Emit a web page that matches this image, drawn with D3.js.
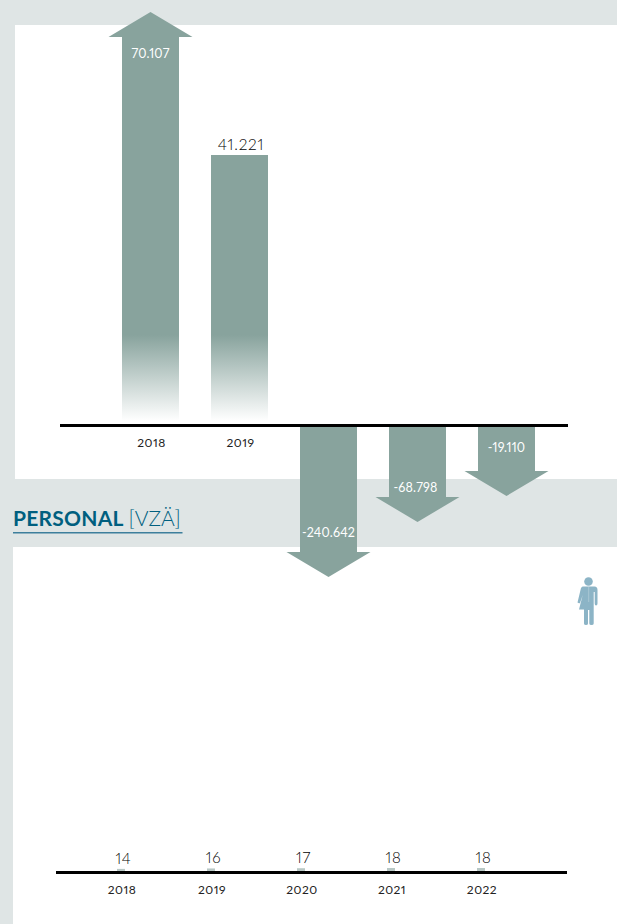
<!DOCTYPE html>
<html><head><meta charset="utf-8">
<script src="https://cdn.jsdelivr.net/npm/d3@7"></script>
<style>html,body{margin:0;padding:0;background:#fff}svg{display:block}text{font-family:Lato,sans-serif;font-feature-settings:"pnum" 1,"lnum" 1;opacity:.995}</style>
</head><body><div id="c"></div>
<script>
const years = [2018, 2019, 2020, 2021, 2022];
const resultValues = [70107, 41221, -240642, -68798, -19110];
const resultLabels = ["70.107", "41.221", "-240.642", "-68.798", "-19.110"];
const resultIsArrow = [true, false, true, true, true];
const resultAxisYears = [2018, 2019];
const staffValues = [14, 16, 17, 18, 18];
const staffLabels = ["14", "16", "17", "18", "18"];

const W = 617, H = 924, BG = "#dfe5e5", BAR = "#88a39d", BLUE = "#005f7f";
const svg = d3.select("#c").append("svg").attr("width", W).attr("height", H);
svg.append("rect").attr("width", W).attr("height", H).attr("fill", BG);
svg.append("rect").attr("x", 15).attr("y", 25).attr("width", W - 15).attr("height", 454).attr("fill", "#fff");
svg.append("rect").attr("x", 13).attr("y", 547).attr("width", W - 13).attr("height", H - 547).attr("fill", "#fff");

const grad = svg.append("defs").append("linearGradient").attr("id", "fade")
  .attr("gradientUnits", "userSpaceOnUse").attr("x1", 0).attr("x2", 0).attr("y1", 335).attr("y2", 421);
grad.append("stop").attr("offset", 0).attr("stop-color", BAR);
grad.append("stop").attr("offset", 1).attr("stop-color", BAR).attr("stop-opacity", 0);

// Upper chart: the reference's bars are not to one scale, so the value axis is piecewise.
const x1 = d3.scaleBand().domain(years).range([106, 551]).paddingInner(32 / 89).paddingOuter(16 / 89);
const yBroken = d3.scaleLinear()
  .domain([-240642, -68798, -19110, 0, 41221, 70107])
  .range([577, 522, 496, 425, 155, 12]);
const yNegLabel = d3.scaleLinear().domain([-240642, -68798, -19110]).range([536.5, 491.5, 452]);
const y0 = yBroken(0);
const headW = 84, headH = 25;

const g1 = svg.append("g");
resultValues.forEach((v, i) => {
  const yr = years[i], bw = x1.bandwidth(), l = x1(yr), r = l + bw, c = l + bw / 2, tip = yBroken(v);
  if (!resultIsArrow[i]) {
    g1.append("path").attr("d", d3.line()([[l, tip], [r, tip], [r, 421], [l, 421]]) + "Z").attr("fill", "url(#fade)");
    g1.append("text").attr("x", c + 1.5).attr("y", tip - 5).attr("text-anchor", "middle")
      .attr("font-size", 15.5).attr("font-weight", 300).attr("letter-spacing", 0.8).attr("fill", "#000").text(resultLabels[i]);
    return;
  }
  const dir = v > 0 ? 1 : -1, base = tip + dir * headH;
  const start = v > 0 ? 421 : y0;
  g1.append("path").attr("d", d3.line()([
    [l, start], [l, base], [c - headW / 2, base], [c, tip], [c + headW / 2, base], [r, base], [r, start]
  ]) + "Z").attr("fill", v > 0 ? "url(#fade)" : BAR);
  const ly = v > 0 ? tip + 45.5 : yNegLabel(v);
  g1.append("text").attr("x", c + (v === -68798 ? -2 : 0)).attr("y", ly).attr("text-anchor", "middle")
    .attr("font-size", 12.5).attr("letter-spacing", 0.2).attr("fill", "#fff").text(resultLabels[i]);
});

const ax1 = svg.append("g").attr("transform", `translate(1,${y0})`)
  .call(d3.axisBottom(x1).tickValues(resultAxisYears).tickSize(0).tickPadding(13));
ax1.select(".domain").remove();
ax1.selectAll("text").attr("font-family", "Lato,sans-serif").attr("font-size", 12).attr("letter-spacing", 0.5).attr("fill", "#222");
svg.append("rect").attr("x", 60).attr("y", 424).attr("width", 508).attr("height", 3).attr("fill", "#000");

// Title
const title = svg.append("text").attr("x", 13).attr("y", 526).attr("font-size", 21).attr("fill", BLUE);
title.append("tspan").attr("font-weight", 700).attr("letter-spacing", 0.25).text("PERSONAL ");
title.append("tspan").attr("font-weight", 300).text("[VZÄ]");
svg.append("rect").attr("x", 13).attr("y", 532).attr("width", 169.5).attr("height", 1.5).attr("fill", "#3d7f9c");

// Lower chart
const x2 = d3.scaleBand().domain(years).range([76, 526]).paddingInner(82 / 90).paddingOuter(41 / 90);
const y2 = d3.scaleLinear().domain([0, 18]).range([872, 868]);
const g2 = svg.append("g");
g2.selectAll("rect").data(staffValues).join("rect")
  .attr("x", (d, i) => x2(years[i])).attr("y", d => y2(d))
  .attr("width", x2.bandwidth()).attr("height", d => y2(0) - y2(d)).attr("fill", "#b9c8c5");
g2.selectAll("text").data(staffValues).join("text")
  .attr("x", (d, i) => x2(years[i]) + x2.bandwidth() / 2 + 2.5).attr("y", d => y2(d) - 5)
  .attr("text-anchor", "middle").attr("font-size", 15).attr("font-weight", 300).attr("letter-spacing", 0.8).attr("fill", "#000")
  .text((d, i) => staffLabels[i]);
const ax2 = svg.append("g").attr("transform", "translate(1,872)")
  .call(d3.axisBottom(x2).tickSize(0).tickPadding(13));
ax2.select(".domain").remove();
ax2.selectAll("text").attr("font-family", "Lato,sans-serif").attr("font-size", 12).attr("letter-spacing", 0.5).attr("fill", "#222");
svg.append("rect").attr("x", 56).attr("y", 871).attr("width", 511).attr("height", 3).attr("fill", "#000");

// Person icon
const icon = svg.append("g").attr("fill", "#8cb4c6");
icon.append("circle").attr("cx", 588.5).attr("cy", 581.5).attr("r", 4.3);
icon.append("path").attr("d", "M583 586.5 L594.5 586.5 Q597.5 586.5 597.5 590 L597.5 603.5 Q597.5 605.5 596 605.5 Q594.7 605.5 594.7 603.5 L594.7 592 L593.7 592 L593.7 623.5 Q593.7 625 591.5 625 Q589.3 625 589.3 623.5 L589.3 610 L588 610 L588 623.5 Q588 625 586 625 Q584 625 584 623.5 L584 609.5 L579 609.5 L582.7 595 L580 603 Q579 603.8 577.5 602.5 L580.5 590 Q581 586.5 583 586.5 Z");
svg.append("path").attr("d", "M588.7 587 V602").attr("stroke", "#fff").attr("stroke-opacity", 0.5).attr("stroke-width", 0.5).attr("fill", "none");
</script></body></html>
